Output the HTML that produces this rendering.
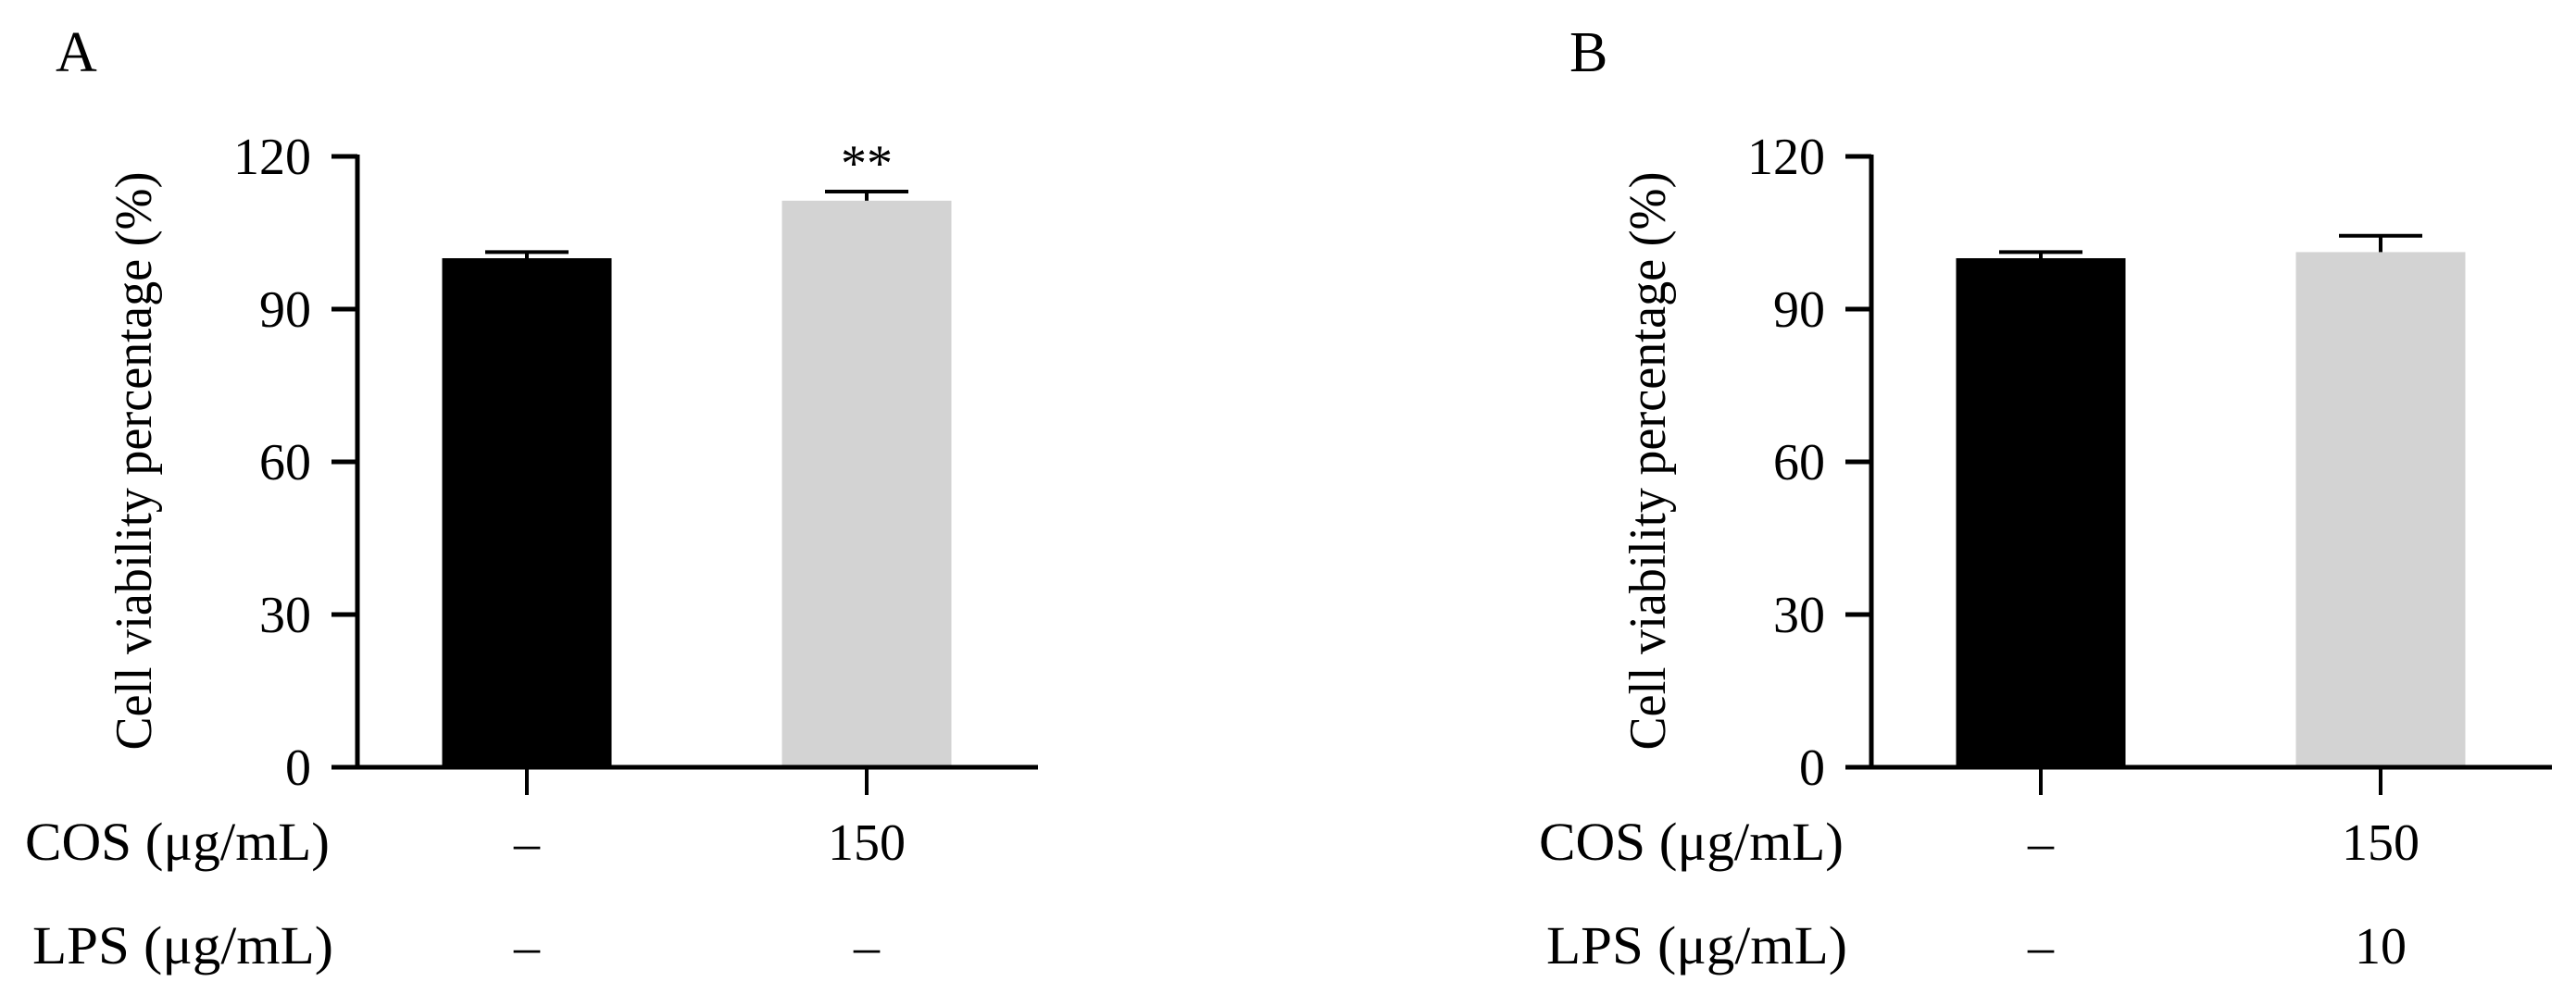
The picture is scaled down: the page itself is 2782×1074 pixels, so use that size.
<!DOCTYPE html>
<html><head><meta charset="utf-8">
<style>
html,body{margin:0;padding:0;background:#fff;}
svg{display:block;font-family:"Liberation Serif",serif;}
</style></head>
<body>
<svg id="chart" width="2782" height="1074" viewBox="0 0 2782 1074" xmlns="http://www.w3.org/2000/svg"></svg>
<script>
const panelLabels = ["A", "B"];
const yTicks = [0, 30, 60, 90, 120];
const meansA = [100, 111.3];
const errorsA = [1.2, 1.8];
const meansB = [100, 101.2];
const errorsB = [1.2, 3.2];
const cosLabelsA = ["–", "150"];
const lpsLabelsA = ["–", "–"];
const cosLabelsB = ["–", "150"];
const lpsLabelsB = ["–", "10"];
const sigA = ["", "**"];
const sigB = ["", ""];

const NS = "http://www.w3.org/2000/svg";
const svg = document.getElementById('chart');
function mk(tag, attrs, parent){
  const e = document.createElementNS(NS, tag);
  for (const k in attrs) e.setAttribute(k, attrs[k]);
  (parent||svg).appendChild(e);
  return e;
}
const Y0 = 829, YTOP = 169, YMAX = 120;
function yScale(v){ return Y0 - (v / YMAX) * (Y0 - YTOP); }
const barOffsets = [183, 550];
const barW = 183;
const colors = ["#000000", "#d3d3d3"];

function panel(idx, axisX, means, errs, cos, lps, sig){
  const g = mk('g', {});
  
  
  const lab = mk('text', {x: axisX - 326, y: 77, 'font-size': 62}, g);
  
  
  lab.textContent = panelLabels[idx];
  means.forEach((m, i) => {
    const cx = axisX + barOffsets[i];
    const top = yScale(m);
    const r = mk('rect', {x: cx - barW/2, y: top, width: barW, height: Y0 - top, fill: colors[i]}, g);
    
    
    const et = yScale(m + errs[i]);
    const eg = mk('g', {stroke: '#000', 'stroke-width': 4}, g);
    
    
    mk('line', {x1: cx, x2: cx, y1: top, y2: et}, eg);
    mk('line', {x1: cx - 45, x2: cx + 45, y1: et, y2: et}, eg);
    if (sig[i]) {
      const s = mk('text', {x: cx, y: et - 12, 'font-size': 56, 'text-anchor': 'middle'}, g);
      
      
      s.textContent = sig[i];
    }
    const t = mk('line', {x1: cx, x2: cx, y1: Y0, y2: Y0 + 30, stroke: '#000', 'stroke-width': 4}, g);
    
    
    const c = mk('text', {x: cx, y: 929, 'font-size': 56, 'text-anchor': 'middle'}, g);
    
    
    c.textContent = cos[i];
    const l = mk('text', {x: cx, y: 1041, 'font-size': 56, 'text-anchor': 'middle'}, g);
    
    
    l.textContent = lps[i];
  });
  const ya = mk('line', {x1: axisX, x2: axisX, y1: YTOP - 2, y2: Y0 + 2, stroke: '#000', 'stroke-width': 5}, g);
  
  
  const xa = mk('line', {x1: axisX - 28, x2: axisX + 735, y1: Y0, y2: Y0, stroke: '#000', 'stroke-width': 5}, g);
  
  
  yTicks.forEach(v => {
    const y = yScale(v);
    const t = mk('line', {x1: axisX - 28, x2: axisX, y1: y, y2: y, stroke: '#000', 'stroke-width': 5}, g);
    
    
    const tl = mk('text', {x: axisX - 50, y: y + 19, 'font-size': 56, 'text-anchor': 'end'}, g);
    
    
    tl.textContent = v;
  });
  const yt = mk('text', {x: 0, y: 0, 'font-size': 56, 'text-anchor': 'middle', textLength: 625, lengthAdjust: 'spacingAndGlyphs', transform: 'translate(' + (axisX - 223) + ',498) rotate(-90)'}, g);
  
  
  yt.textContent = 'Cell viability percentage (%)';
  const cl = mk('text', {x: axisX - 30, y: 929, 'font-size': 58, 'text-anchor': 'end', textLength: 329, lengthAdjust: 'spacingAndGlyphs'}, g);
  
  
  cl.textContent = 'COS (μg/mL)';
  const ll = mk('text', {x: axisX - 26, y: 1041, 'font-size': 58, 'text-anchor': 'end', textLength: 325, lengthAdjust: 'spacingAndGlyphs'}, g);
  
  
  ll.textContent = 'LPS (μg/mL)';
}
panel(0, 386, meansA, errorsA, cosLabelsA, lpsLabelsA, sigA);
panel(1, 2021, meansB, errorsB, cosLabelsB, lpsLabelsB, sigB);
</script>
</body></html>
